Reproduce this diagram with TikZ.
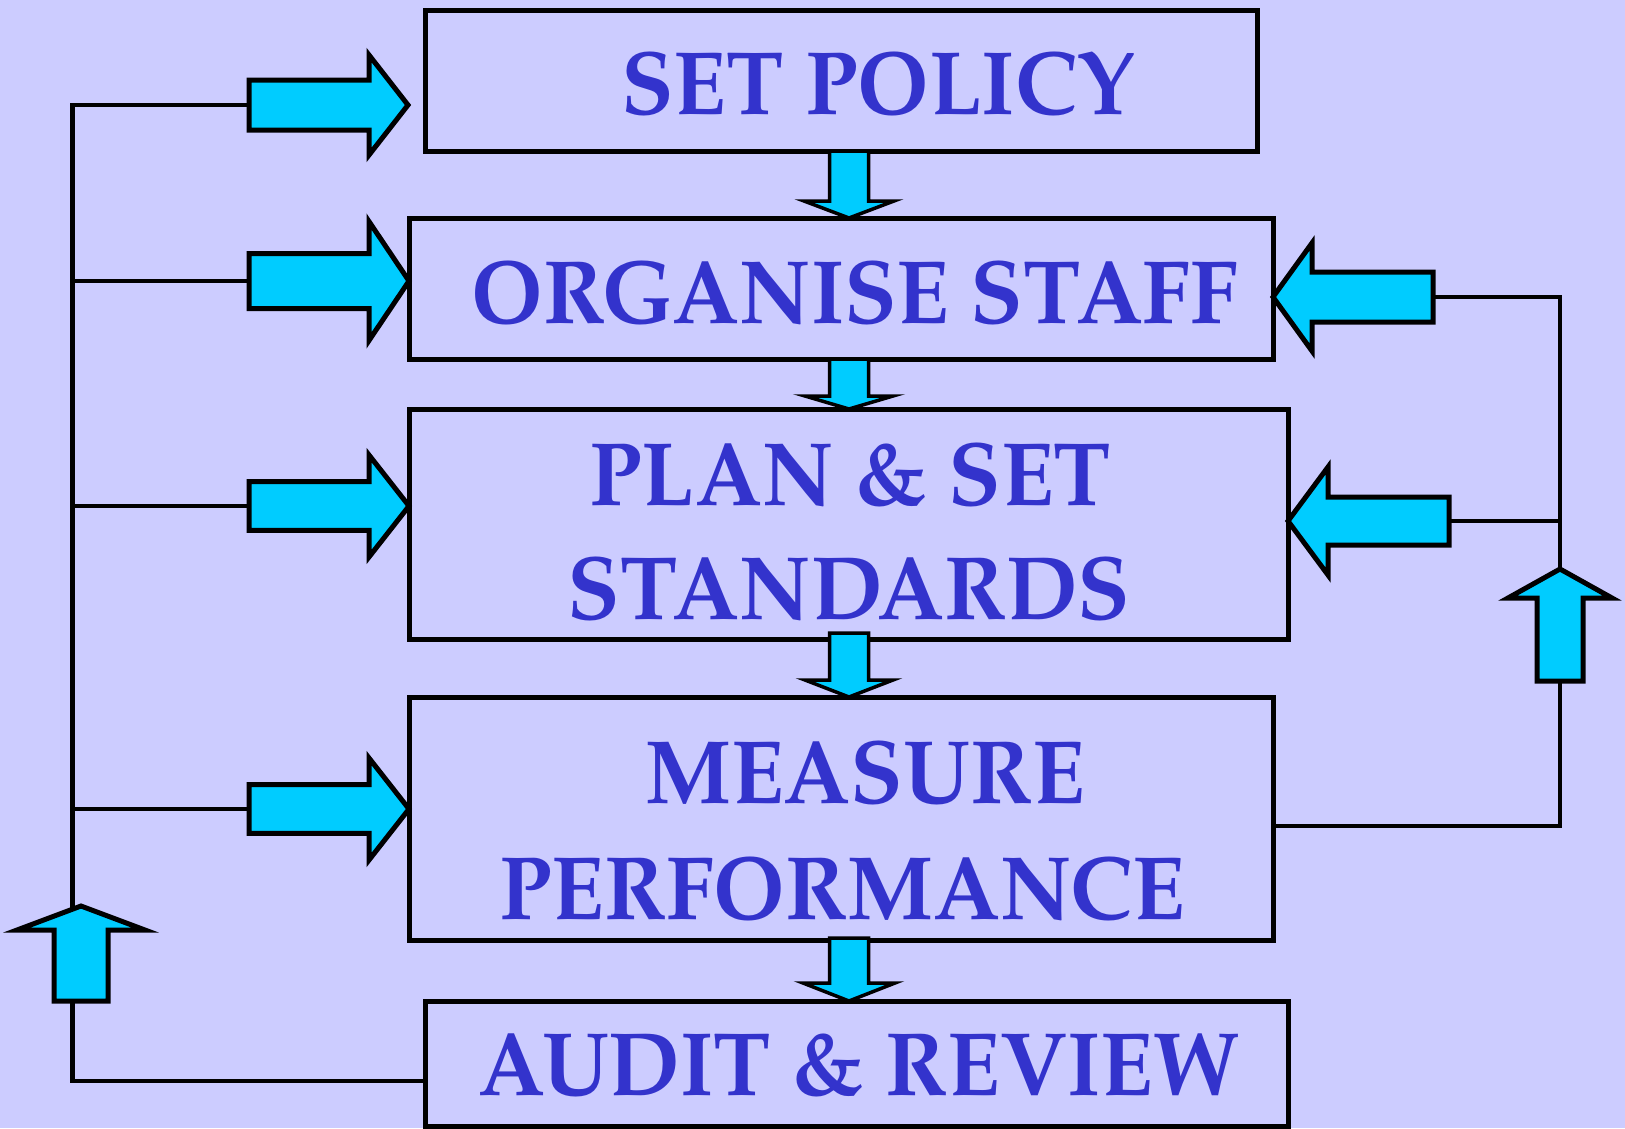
\documentclass[tikz,border=0pt]{standalone}
\usepackage{fontspec}
\setmainfont{TeX Gyre Pagella}
\definecolor{bg}{HTML}{CCCCFF}
\definecolor{txt}{HTML}{3333CC}
\definecolor{cyanfill}{HTML}{00CCFF}
\newcommand{\lblsq}[1]{\scalebox{0.955}[1]{#1}}
\tikzset{
  pics/barr/.style n args={4}{code={%
    \path[barrowstyle] (0,0) -- (-#2,#4) -- (-#2,#3) -- (-#1,#3) -- (-#1,-#3) -- (-#2,-#3) -- (-#2,-#4) -- cycle;}},
}
\begin{document}
\begin{tikzpicture}[x=1pt,y=-1pt,
  box/.style={draw=black, line width=5pt, rectangle, inner sep=0pt, outer sep=0pt},
  lbl/.style={text=txt, font=\fontsize{90}{90}\selectfont\bfseries, inner sep=0pt, anchor=base},
  conn/.style={draw=black, line width=4.5pt},
  barrowstyle/.style={draw=black, line width=5pt, fill=cyanfill, line join=miter, miter limit=20},
  thin/.style={barrowstyle/.append style={line width=3.5pt}},
]
\fill[bg] (0,0) rectangle (1625,1128);
\useasboundingbox (0,0) rectangle (1625,1128);

% boxes
\node[box, minimum width=832pt, minimum height=141pt] (pol)  at (841,80.5) {};
\node[box, minimum width=864pt, minimum height=141pt] (org)  at (841,288.5) {};
\node[box, minimum width=879pt, minimum height=230pt] (plan) at (848.5,524) {};
\node[box, minimum width=864pt, minimum height=243pt] (meas) at (841,818.5) {};
\node[box, minimum width=863pt, minimum height=125pt] (aud)  at (856.5,1063.5) {};

% labels
\node[lbl] (tpol)  at (878,114)  {\lblsq{SET POLICY}};
\node[lbl] (torg)  at (855,323)  {\lblsq{ORGANISE STAFF}};
\node[lbl] (tplan1) at (850,505) {\lblsq{PLAN \& SET}};
\node[lbl] (tplan2) at (849,619) {\lblsq{STANDARDS}};
\node[lbl] (tmeas1) at (865,803) {\lblsq{MEASURE}};
\node[lbl] (tmeas2) at (842,919) {\lblsq{PERFORMANCE}};
\node[lbl] (taud)  at (859,1095) {\lblsq{AUDIT \& REVIEW}};

% helper coordinates
\coordinate (col) at (849,0);
\coordinate (Ltop) at (72.5,105);
\coordinate (L2) at (72.5,281);
\coordinate (L3) at (72.5,506);
\coordinate (L4) at (72.5,809);
\coordinate (Lend) at (72.5,910);
\coordinate (Lbot) at (72.5,1001);
\coordinate (Lcorner) at (72.5,1081);
\coordinate (T1) at (249,105);
\coordinate (T2) at (249,281);
\coordinate (T3) at (249,506);
\coordinate (T4) at (249,809);
\coordinate (R1) at (1433,297);
\coordinate (Rc1) at (1560,297);
\coordinate (R2) at (1449,521);
\coordinate (Rc2) at (1560,521);
\coordinate (Rtip) at (1560,573);
\coordinate (Rlow) at (1560,681);
\coordinate (Rc3) at (1560,826);

% connectors (lines)
\draw[conn] (T1) -- (Ltop) -- (Lend);
\draw[conn] (L2) -- (T2);
\draw[conn] (L3) -- (T3);
\draw[conn] (L4) -- (T4);
\draw[conn] (Lbot) -- (Lcorner) -- (Lcorner -| aud.west);
\draw[conn] (R1) -- (Rc1) -- (Rtip);
\draw[conn] (R2) -- (Rc2);
\draw[conn] (meas.east |- Rc3) -- (Rc3) -- (Rlow);

% down block arrows between boxes
\pic[rotate=-90, thin] at (org.north -| col)  {barr={67}{17}{19.5}{45}};
\pic[rotate=-90, thin] at (plan.north -| col) {barr={50}{13}{19.5}{44}};
\pic[rotate=-90, thin] at (meas.north -| col) {barr={64}{17}{19.5}{44}};
\pic[rotate=-90, thin] at (aud.north -| col)  {barr={63}{18}{19.5}{46}};

% left feed arrows (pointing right)
\pic at (408,105) {barr={159}{39}{25}{50}};
\pic at (org.west |- L2) {barr={160}{40}{27.5}{59.5}};
\pic at (plan.west |- L3) {barr={160}{40}{24.4}{51}};
\pic at (meas.west |- L4) {barr={160}{40}{24.4}{51}};

% right feedback arrows (pointing left)
\pic[rotate=180] at (org.east |- R1)  {barr={160}{39}{25}{54}};
\pic[rotate=180] at (plan.east |- R2) {barr={161}{40}{24}{54}};

% up arrows
\pic[rotate=90] at (81,906)   {barr={95}{24}{27}{64}};
\pic[rotate=90] at (1560,569) {barr={112}{29}{23}{52}};
\end{tikzpicture}
\end{document}
